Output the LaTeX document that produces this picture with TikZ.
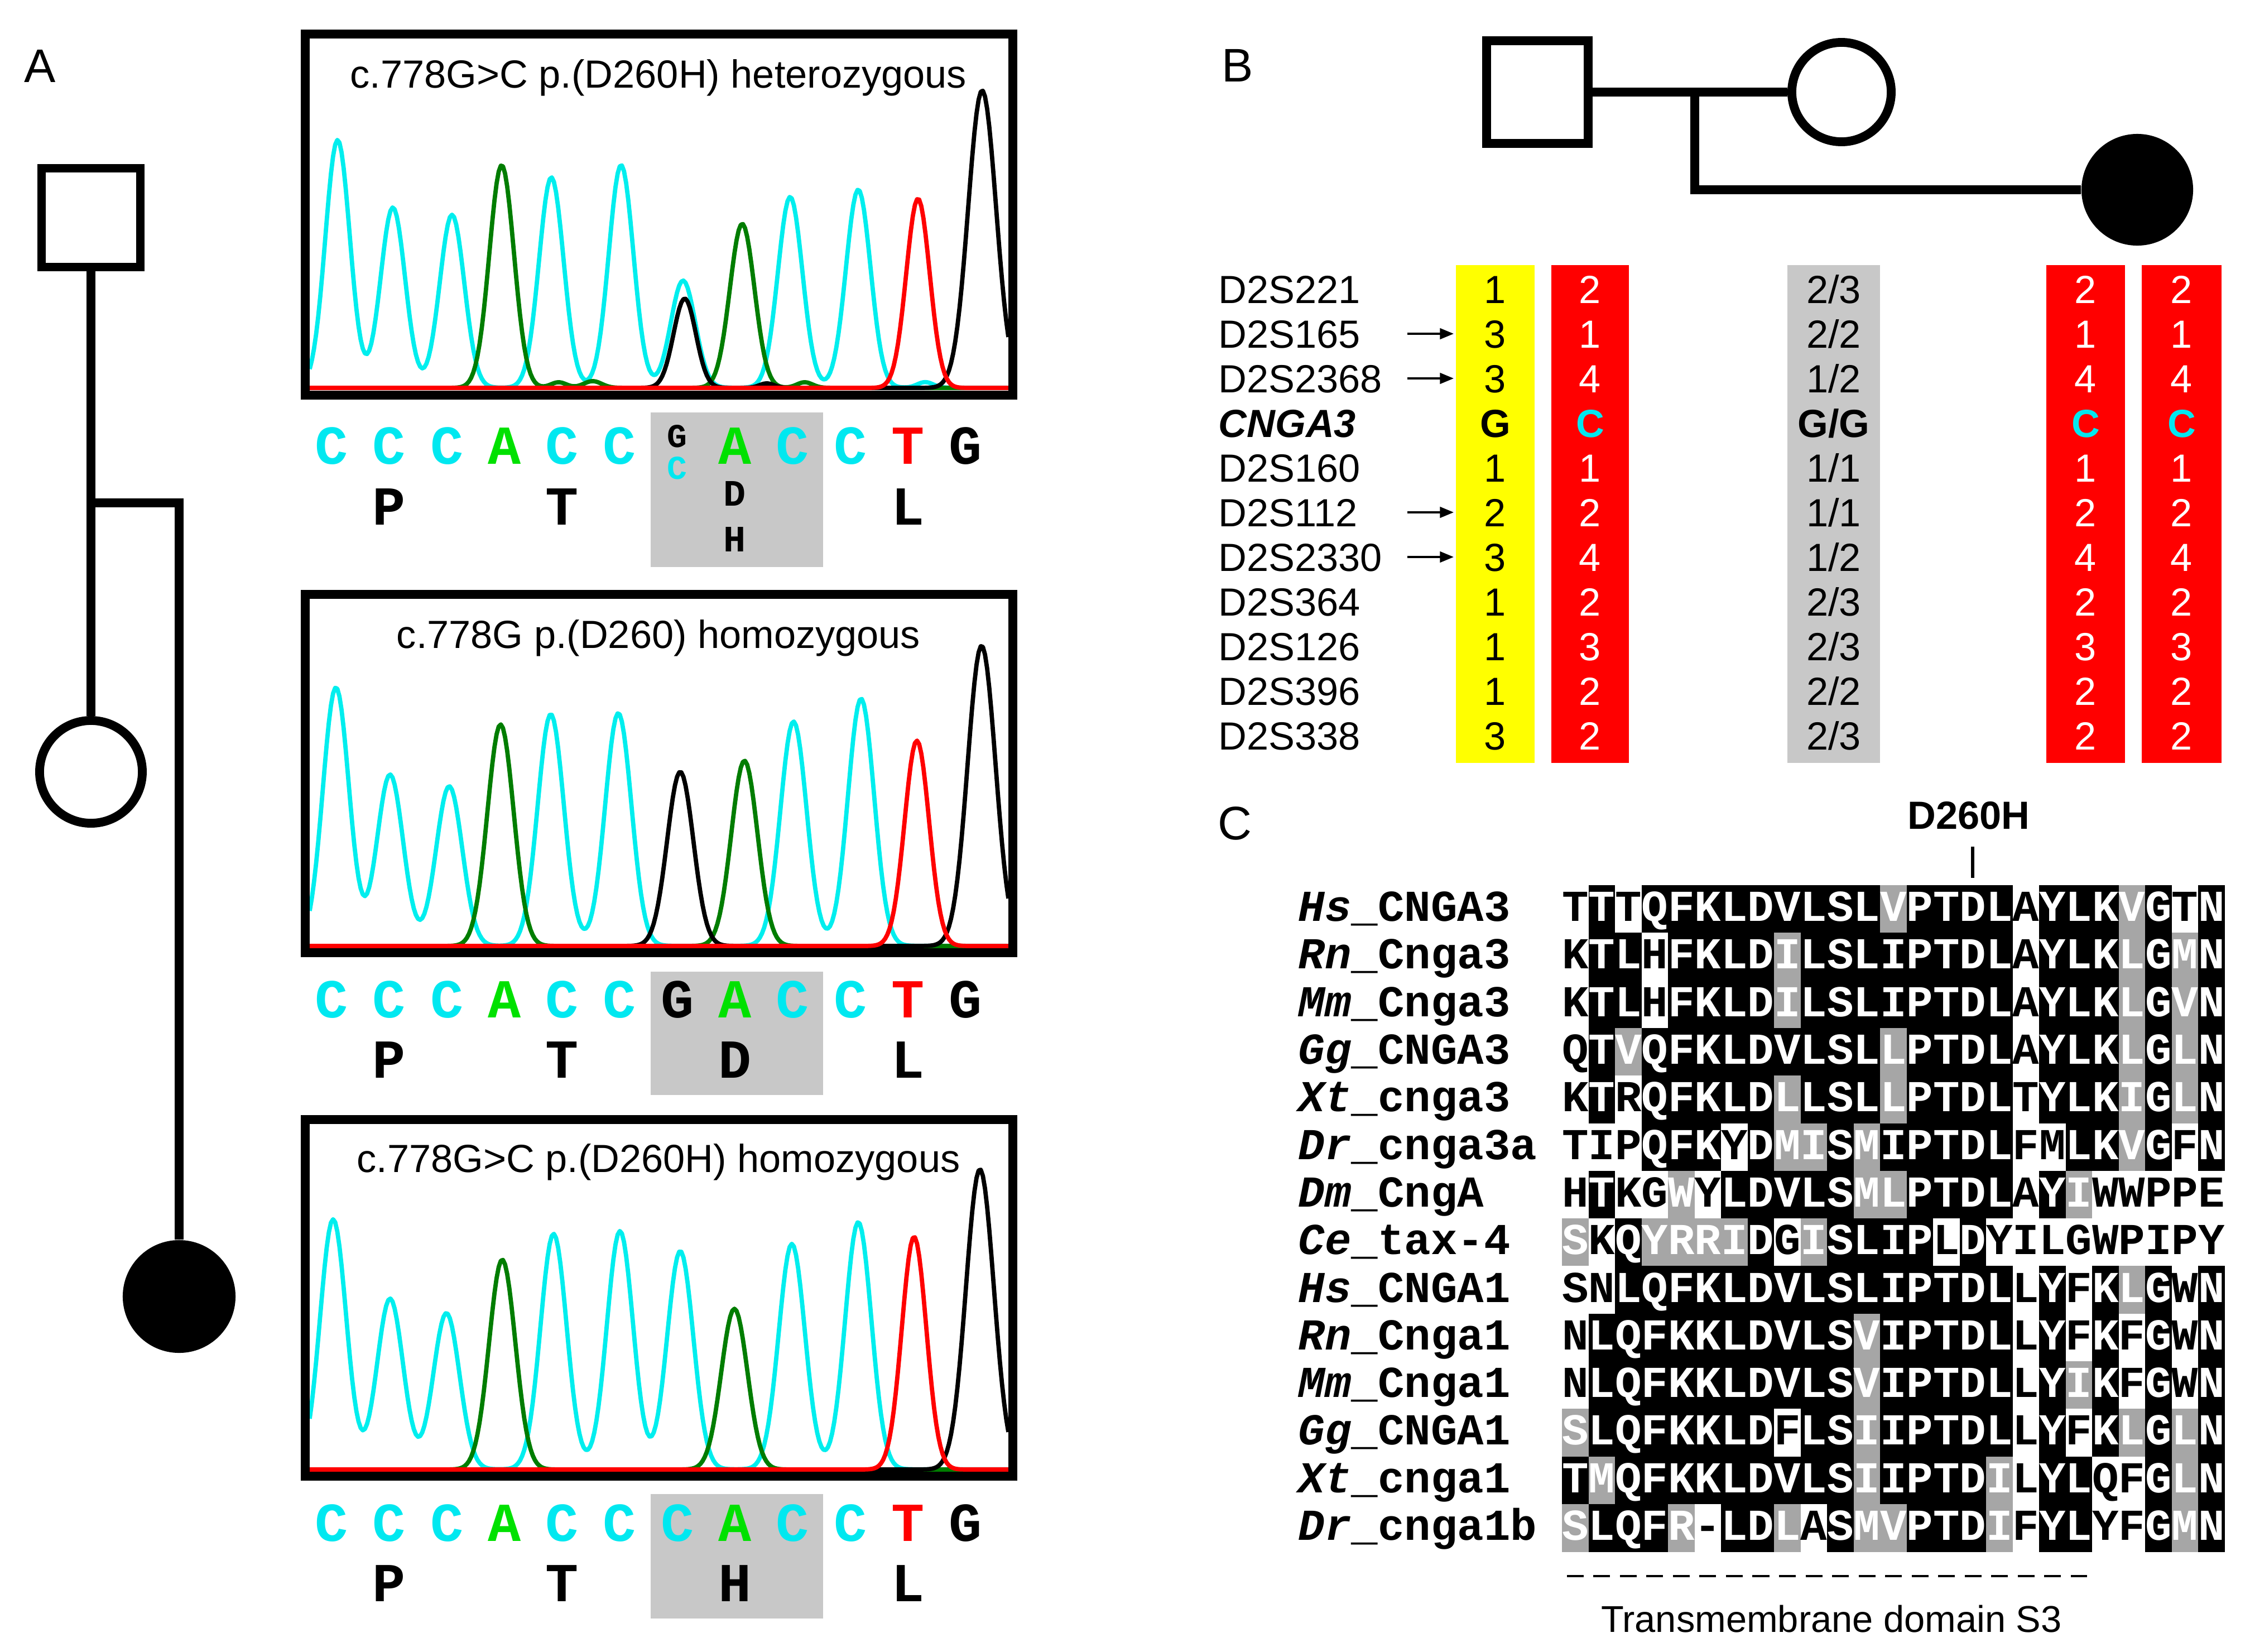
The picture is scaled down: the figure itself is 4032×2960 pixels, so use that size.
\documentclass[tikz,border=0pt]{standalone}
\usepackage{fontspec}
\setmainfont{Liberation Sans}
\newfontfamily\monof{Liberation Mono}
\usetikzlibrary{arrows.meta}
\definecolor{cyanT}{RGB}{0,238,238}
\definecolor{cyanL}{RGB}{0,232,240}
\definecolor{greenT}{RGB}{0,125,0}
\definecolor{greenL}{RGB}{0,225,0}
\definecolor{redT}{RGB}{255,0,0}
\definecolor{boxgray}{RGB}{200,200,200}
\definecolor{alB}{RGB}{0,0,0}
\definecolor{altB}{RGB}{255,255,255}
\definecolor{alG}{RGB}{166,166,166}
\definecolor{altG}{RGB}{255,255,255}
\definecolor{alW}{RGB}{255,255,255}
\definecolor{altW}{RGB}{0,0,0}
\definecolor{hapyellow}{RGB}{255,255,0}
\definecolor{hapred}{RGB}{255,0,0}
\definecolor{hapgray}{RGB}{200,200,200}

% alignment rows: letter/shade
\def\rowA{T/W,T/B,T/W,Q/B,F/B,K/B,L/B,D/B,V/B,L/B,S/B,L/B,V/G,P/B,T/B,D/B,L/B,A/W,Y/B,L/B,K/B,V/G,G/B,T/W,N/B}
\def\rowB{K/W,T/B,L/B,H/W,F/B,K/B,L/B,D/B,I/G,L/B,S/B,L/B,I/B,P/B,T/B,D/B,L/B,A/W,Y/B,L/B,K/B,L/G,G/B,M/G,N/B}
\def\rowC{K/W,T/B,L/B,H/W,F/B,K/B,L/B,D/B,I/G,L/B,S/B,L/B,I/B,P/B,T/B,D/B,L/B,A/W,Y/B,L/B,K/B,L/G,G/B,V/G,N/B}
\def\rowD{Q/W,T/B,V/G,Q/B,F/B,K/B,L/B,D/B,V/B,L/B,S/B,L/B,L/G,P/B,T/B,D/B,L/B,A/W,Y/B,L/B,K/B,L/G,G/B,L/G,N/B}
\def\rowE{K/W,T/B,R/W,Q/B,F/B,K/B,L/B,D/B,L/G,L/B,S/B,L/B,L/G,P/B,T/B,D/B,L/B,T/W,Y/B,L/B,K/B,I/G,G/B,L/G,N/B}
\def\rowF{T/W,I/W,P/W,Q/B,F/B,K/B,Y/W,D/B,M/G,I/G,S/B,M/G,I/B,P/B,T/B,D/B,L/B,F/W,M/W,L/B,K/B,V/G,G/B,F/W,N/B}
\def\rowG{H/W,T/B,K/W,G/W,W/G,Y/W,L/B,D/B,V/B,L/B,S/B,M/G,L/G,P/B,T/B,D/B,L/B,A/W,Y/B,I/G,W/W,W/W,P/W,P/W,E/W}
\def\rowH{S/G,K/W,Q/B,Y/G,R/G,R/G,I/G,D/B,G/W,I/G,S/B,L/B,I/B,P/B,L/W,D/B,Y/W,I/W,L/W,G/W,W/W,P/W,I/W,P/W,Y/W}
\def\rowI{S/W,N/W,L/B,Q/B,F/B,K/B,L/B,D/B,V/B,L/B,S/B,L/B,I/B,P/B,T/B,D/B,L/B,L/W,Y/B,F/W,K/B,L/G,G/B,W/W,N/B}
\def\rowJ{N/W,L/B,Q/B,F/B,K/B,K/B,L/B,D/B,V/B,L/B,S/B,V/G,I/B,P/B,T/B,D/B,L/B,L/W,Y/B,F/W,K/B,F/W,G/B,W/W,N/B}
\def\rowK{N/W,L/B,Q/B,F/B,K/B,K/B,L/B,D/B,V/B,L/B,S/B,V/G,I/B,P/B,T/B,D/B,L/B,L/W,Y/B,I/G,K/B,F/W,G/B,W/W,N/B}
\def\rowL{S/G,L/B,Q/B,F/B,K/B,K/B,L/B,D/B,F/W,L/B,S/B,I/G,I/B,P/B,T/B,D/B,L/B,L/W,Y/B,F/W,K/B,L/G,G/B,L/G,N/B}
\def\rowM{T/B,M/G,Q/B,F/B,K/B,K/B,L/B,D/B,V/B,L/B,S/B,I/G,I/B,P/B,T/B,D/B,I/G,L/W,Y/B,L/B,Q/W,F/W,G/B,L/G,N/B}
\def\rowN{S/G,L/B,Q/B,F/B,R/G,-/W,L/B,D/B,L/G,A/W,S/B,M/G,V/G,P/B,T/B,D/B,I/G,F/W,Y/B,L/B,Y/W,F/W,G/B,M/G,N/B}

\newcommand{\alfills}[2]{%
  \foreach \ch/\sh [count=\ii from 0] in #2 {
    \fill[al\sh] ({2799+47.5*\ii},{1586+85.3*#1}) rectangle ({2799+47.5*\ii+48.3},{1586+85.3*#1+86.1});
  }}
\newcommand{\altexts}[4]{%
  \node[alname] (lab#1) at (2326,{1650.6+85.3*#1}) {\textit{#2}\_#3};
  \foreach \ch/\sh [count=\ii from 0] in #4 {
    \node[alchar, text=alt\sh] (a#1x\ii) at ({2822.75+47.5*\ii},{1650.6+85.3*#1}) {\ch};
  }}
\newcommand{\baserow}[2]{%
  \foreach \ch/\co/\ii in {#2} {
    \node[basech, text=\co] (b#1x\ii) at ({594+103.3*\ii},#1) {\ch};
  }}

\begin{document}
\begin{tikzpicture}[x=0.01cm,y=-0.01cm,
  declare function={gs(\t)=exp(-min(9,0.5*(\t)*(\t)));},
  trace/.style={line width=2.2pt,line join=round},
  chrombox/.style={draw,line width=4.6pt,inner sep=0pt,minimum width=12.68cm},
  ttl/.style={font=\fontsize{20}{24}\selectfont,anchor=base,inner sep=0pt},
  basech/.style={font=\monof\bfseries\fontsize{28}{32}\selectfont,anchor=base,inner sep=0pt},
  smallch/.style={font=\monof\bfseries\fontsize{17}{19}\selectfont,anchor=base,inner sep=0pt},
  aach/.style={font=\monof\bfseries\fontsize{19}{21}\selectfont,anchor=base,inner sep=0pt},
  pedline/.style={line width=4.4pt},
  pedsq/.style={draw,line width=4.5pt,inner sep=0pt},
  panlab/.style={font=\fontsize{24}{28}\selectfont,anchor=base,inner sep=0pt},
  alchar/.style={font=\monof\bfseries\fontsize{22.5}{27}\selectfont,anchor=base,inner sep=0pt},
  alname/.style={font=\monof\bfseries\fontsize{22.5}{27}\selectfont,anchor=base west,inner sep=0pt},
  haptxt/.style={font=\fontsize{20}{24}\selectfont,anchor=base,inner sep=0pt},
  hapcol/.style={inner sep=0pt,minimum height=8.92cm},
  haparrow/.style={line width=1pt,-{Triangle[length=7pt,width=5.5pt]}}
]
\fill[white] (0,0) rectangle (4032,2960);
\useasboundingbox (0,0) rectangle (4032,2960);

% ---------------- panel labels
\node[panlab] (labA) at (72,147) {A};
\node[panlab] (labB) at (2218,146) {B};
\node[panlab] (labC) at (2213,1504) {C};

% ---------------- pedigree A
\node[pedsq,minimum size=1.77cm] (sqA) at (163,390) {};
\node[draw,circle,line width=4.5pt,minimum size=1.84cm,inner sep=0pt] (cA) at (163,1383) {};
\node[fill,circle,minimum size=2.02cm,inner sep=0pt] (fA) at (321,2323) {};
\draw[pedline] (sqA.south) -- (cA.north);
\coordinate (jA) at (163,901);
\draw[pedline] (jA) -| (fA.north);

% ---------------- chromatogram panel 1
\begin{scope}
\clip (555,69) rectangle (1807,700);
\draw[trace,cyanT] plot[domain=555:1807,samples=330] (\x,{695-444*gs((\x-605)/22)-323*gs((\x-704)/22)-310*gs((\x-810)/22)-377*gs((\x-988)/22)-399*gs((\x-1113)/22)-192*gs((\x-1224)/22)-342*gs((\x-1416)/22)-355*gs((\x-1538)/22)-10*gs((\x-1658)/14)});
\draw[trace,greenT] plot[domain=555:1807,samples=330] (\x,{695-399*gs((\x-899)/22)-294*gs((\x-1330)/22)-10*gs((\x-1001)/14)-12*gs((\x-1062)/16)-10*gs((\x-1442)/14)});
\draw[trace,black] plot[domain=555:1807,samples=330] (\x,{695-160*gs((\x-1227)/20)-533*gs((\x-1760)/25)-8*gs((\x-1374)/13)});
\draw[trace,redT] plot[domain=555:1807,samples=330] (\x,{695-339*gs((\x-1645)/21)});
\end{scope}
\node[chrombox,minimum height=6.47cm] (box1) at (1181,384.5) {};
\node[ttl] (t1) at (1180,157) {c.778G>C p.(D260H) heterozygous};
\node[fill=boxgray,inner sep=0pt,minimum width=3.09cm,minimum height=2.77cm] (g1) at (1320.5,877.5) {};
\baserow{831}{C/cyanL/0,C/cyanL/1,C/cyanL/2,A/greenL/3,C/cyanL/4,C/cyanL/5,A/greenL/7,C/cyanL/8,C/cyanL/9,T/redT/10,G/black/11}
\node[smallch,text=black] (hg) at (1213,801) {G};
\node[smallch,text=cyanL] (hc) at (1213,858) {C};
\node[basech] (p1P) at (697.3,940) {P};
\node[basech] (p1T) at (1007.2,940) {T};
\node[basech] (p1L) at (1627,940) {L};
\node[aach] (p1D) at (1317,906) {D};
\node[aach] (p1H) at (1317,988) {H};

% ---------------- chromatogram panel 2
\begin{scope}
\clip (555,1073) rectangle (1807,1699);
\draw[trace,cyanT] plot[domain=555:1807,samples=330] (\x,{1695-463*gs((\x-602)/23.5)-307*gs((\x-699)/23.5)-286*gs((\x-805)/23.5)-415*gs((\x-987)/23.5)-417*gs((\x-1108)/23.5)-402*gs((\x-1422)/23.5)-443*gs((\x-1543)/23.5)});
\draw[trace,greenT] plot[domain=555:1807,samples=330] (\x,{1695-397*gs((\x-897)/23.5)-332*gs((\x-1334)/23.5)});
\draw[trace,black] plot[domain=555:1807,samples=330] (\x,{1695-312*gs((\x-1219)/23.5)-538*gs((\x-1759)/25)});
\draw[trace,redT] plot[domain=555:1807,samples=330] (\x,{1695-368*gs((\x-1643)/22)});
\end{scope}
\node[chrombox,minimum height=6.42cm] (box2) at (1181,1386) {};
\node[ttl] (t2) at (1180,1161) {c.778G p.(D260) homozygous};
\node[fill=boxgray,inner sep=0pt,minimum width=3.09cm,minimum height=2.21cm] (g2) at (1320.5,1851.5) {};
\baserow{1823}{C/cyanL/0,C/cyanL/1,C/cyanL/2,A/greenL/3,C/cyanL/4,C/cyanL/5,G/black/6,A/greenL/7,C/cyanL/8,C/cyanL/9,T/redT/10,G/black/11}
\node[basech] (p2P) at (697.3,1931) {P};
\node[basech] (p2T) at (1007.2,1931) {T};
\node[basech] (p2D) at (1317,1931) {D};
\node[basech] (p2L) at (1627,1931) {L};

% ---------------- chromatogram panel 3
\begin{scope}
\clip (555,2014) rectangle (1807,2637);
\draw[trace,cyanT] plot[domain=555:1807,samples=330] (\x,{2633-448*gs((\x-597)/23.5)-306*gs((\x-699)/23.5)-280*gs((\x-800)/23.5)-422*gs((\x-992)/23.5)-427*gs((\x-1111)/23.5)-391*gs((\x-1219)/23.5)-404*gs((\x-1419)/23.5)-443*gs((\x-1538)/23.5)});
\draw[trace,greenT] plot[domain=555:1807,samples=330] (\x,{2633-376*gs((\x-900)/23.5)-288*gs((\x-1316)/23.5)});
\draw[trace,black] plot[domain=555:1807,samples=330] (\x,{2633-538*gs((\x-1756)/25)});
\draw[trace,redT] plot[domain=555:1807,samples=330] (\x,{2633-417*gs((\x-1638)/22)});
\end{scope}
\node[chrombox,minimum height=6.39cm] (box3) at (1181,2325.5) {};
\node[ttl] (t3) at (1180,2100) {c.778G>C p.(D260H) homozygous};
\node[fill=boxgray,inner sep=0pt,minimum width=3.09cm,minimum height=2.23cm] (g3) at (1320.5,2788.5) {};
\baserow{2761}{C/cyanL/0,C/cyanL/1,C/cyanL/2,A/greenL/3,C/cyanL/4,C/cyanL/5,C/cyanL/6,A/greenL/7,C/cyanL/8,C/cyanL/9,T/redT/10,G/black/11}
\node[basech] (p3P) at (697.3,2869) {P};
\node[basech] (p3T) at (1007.2,2869) {T};
\node[basech] (p3H) at (1317,2869) {H};
\node[basech] (p3L) at (1627,2869) {L};

% ---------------- pedigree B
\node[pedsq,minimum width=1.82cm,minimum height=1.84cm] (sqB) at (2755,165) {};
\node[draw,circle,line width=4.5pt,minimum size=1.78cm,inner sep=0pt] (cB) at (3300,165) {};
\node[fill,circle,minimum size=2cm,inner sep=0pt] (fB) at (3830,340) {};
\draw[pedline] (sqB.east) -- (cB.west);
\coordinate (jB) at (3037,165);
\draw[pedline] (jB) |- (fB.west);

% ---------------- haplotype table
\node[hapcol,fill=hapyellow,minimum width=1.41cm] (hY) at (2679.5,921) {};
\node[hapcol,fill=hapred,minimum width=1.39cm] (hR1) at (2849.5,921) {};
\node[hapcol,fill=hapgray,minimum width=1.66cm] (hG) at (3286,921) {};
\node[hapcol,fill=hapred,minimum width=1.41cm] (hR3) at (3737.5,921) {};
\node[hapcol,fill=hapred,minimum width=1.43cm] (hR4) at (3909.5,921) {};
\foreach \m [count=\ii from 0] in {D2S221,D2S165,D2S2368,{\bfseries\itshape CNGA3},D2S160,D2S112,D2S2330,D2S364,D2S126,D2S396,D2S338}
  \node[haptxt,anchor=base west] (mk\ii) at (2183,{543+80*\ii}) {\m};
\foreach \v [count=\ii from 0] in {1,3,3,{\bfseries G},1,2,3,1,1,1,3}
  \node[haptxt] (hy\ii) at (2679.5,{543+80*\ii}) {\v};
\foreach \v [count=\ii from 0] in {2,1,4,{\bfseries\color{cyanL}C},1,2,4,2,3,2,2}
  \node[haptxt,text=white] (hr\ii) at (2849.5,{543+80*\ii}) {\v};
\foreach \v [count=\ii from 0] in {2/3,2/2,1/2,{\bfseries G/G},1/1,1/1,1/2,2/3,2/3,2/2,2/3}
  \node[haptxt] (hg\ii) at (3286,{543+80*\ii}) {\v};
\foreach \v [count=\ii from 0] in {2,1,4,{\bfseries\color{cyanL}C},1,2,4,2,3,2,2}
  \node[haptxt,text=white] (hs\ii) at (3737.5,{543+80*\ii}) {\v};
\foreach \v [count=\ii from 0] in {2,1,4,{\bfseries\color{cyanL}C},1,2,4,2,3,2,2}
  \node[haptxt,text=white] (ht\ii) at (3909.5,{543+80*\ii}) {\v};
\foreach \r in {1,2,5,6} {
  \coordinate (arS\r) at (2522,{518+80*\r});
  \coordinate (arE\r) at (2605,{518+80*\r});
  \draw[haparrow] (arS\r) -- (arE\r);
}

% ---------------- alignment
\alfills{0}{\rowA}\alfills{1}{\rowB}\alfills{2}{\rowC}\alfills{3}{\rowD}
\alfills{4}{\rowE}\alfills{5}{\rowF}\alfills{6}{\rowG}\alfills{7}{\rowH}
\alfills{8}{\rowI}\alfills{9}{\rowJ}\alfills{10}{\rowK}\alfills{11}{\rowL}
\alfills{12}{\rowM}\alfills{13}{\rowN}
\altexts{0}{Hs}{CNGA3}{\rowA}
\altexts{1}{Rn}{Cnga3}{\rowB}
\altexts{2}{Mm}{Cnga3}{\rowC}
\altexts{3}{Gg}{CNGA3}{\rowD}
\altexts{4}{Xt}{cnga3}{\rowE}
\altexts{5}{Dr}{cnga3a}{\rowF}
\altexts{6}{Dm}{CngA}{\rowG}
\altexts{7}{Ce}{tax-4}{\rowH}
\altexts{8}{Hs}{CNGA1}{\rowI}
\altexts{9}{Rn}{Cnga1}{\rowJ}
\altexts{10}{Mm}{Cnga1}{\rowK}
\altexts{11}{Gg}{CNGA1}{\rowL}
\altexts{12}{Xt}{cnga1}{\rowM}
\altexts{13}{Dr}{cnga1b}{\rowN}

\node[font=\bfseries\fontsize{20}{24}\selectfont,anchor=base,inner sep=0pt] (mut) at (3528,1485) {D260H};
\coordinate (tk1) at (3535,1517);
\coordinate (tk2) at (3535,1573);
\draw[line width=1.7pt] (tk1) -- (tk2);
\coordinate (dsA) at (2807.75,2824);
\coordinate (dsB) at (3740,2824);
\draw[line width=0.9pt,dash pattern=on 8.54pt off 4.975pt] (dsA) -- (dsB);
\node[font=\fontsize{19}{22}\selectfont,anchor=base,inner sep=0pt] (tm) at (3282,2924) {Transmembrane domain S3};
\end{tikzpicture}
\end{document}
